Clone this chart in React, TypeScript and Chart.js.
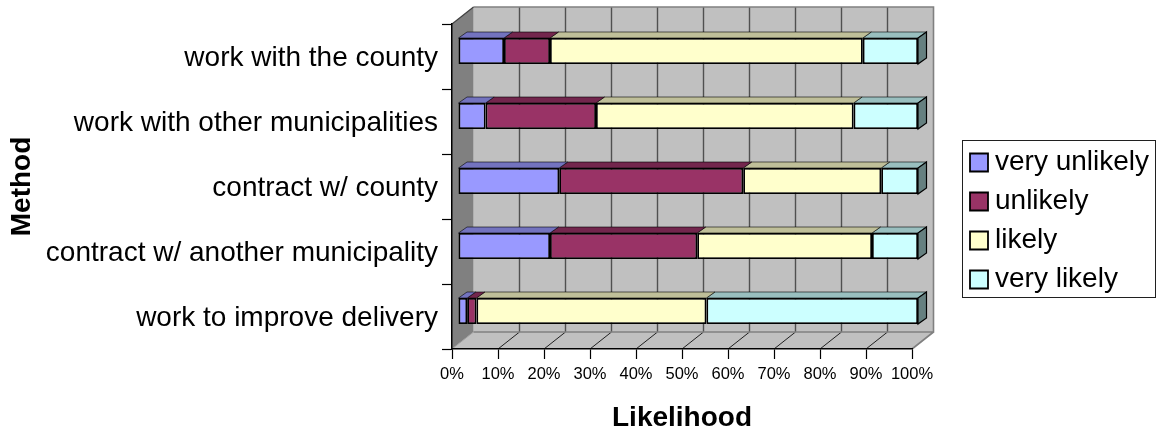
import React, { useEffect, useRef } from "react";
import { Chart, registerables } from "chart.js";

Chart.register(...registerables);

const categories = [
  "work with the county",
  "work with other municipalities",
  "contract w/ county",
  "contract w/ another municipality",
  "work to improve delivery",
];
const veryUnlikely = [10, 6, 22, 20, 2];
const unlikely = [10, 24, 40, 32, 2];
const likely = [68, 56, 30, 38, 50];
const veryLikely = [12, 14, 8, 10, 46];

const seriesLabels = ["very unlikely", "unlikely", "likely", "very likely"];
const seriesValues = [veryUnlikely, unlikely, likely, veryLikely];
const fronts = ["#9999FF", "#993366", "#FFFFCC", "#CCFFFF"];
const tops = ["#7373BF", "#73264D", "#BFBF99", "#99BFBF"];
const side = "#668080";

const FONT = "'Liberation Sans', Arial, sans-serif";
const WALL_DX = 21.5;
const WALL_DY = 17;
const BAR_DX = 8.5;
const BAR_DY = 6;
const BAR_SHIFT_X = 6;
const BAR_SHIFT_Y = -5.5;
const Y_LABEL_SHIFT = 2;

function poly(ctx: CanvasRenderingContext2D, pts: number[][], fill?: string, stroke?: string, lw = 1) {
  ctx.beginPath();
  pts.forEach(([x, y], i) => (i ? ctx.lineTo(x, y) : ctx.moveTo(x, y)));
  ctx.closePath();
  if (fill) {
    ctx.fillStyle = fill;
    ctx.fill();
  }
  if (stroke) {
    ctx.strokeStyle = stroke;
    ctx.lineWidth = lw;
    ctx.stroke();
  }
}

const scenePlugin = {
  id: "scene3d",
  afterLayout(chart: any) {
    const lg = chart.legend;
    lg.left = 966;
    lg.top = 137.5;
    lg.right = 1157;
    lg.bottom = 429;
    lg.width = 191;
    lg.height = 291.5;
    const y = chart.scales.y;
    if (!y.__shifted) {
      y.__shifted = true;
      const orig = y.drawLabels;
      y.drawLabels = function (area: any) {
        this.ctx.save();
        this.ctx.translate(0, Y_LABEL_SHIFT);
        orig.call(this, area);
        this.ctx.restore();
      };
    }
  },
  beforeDraw(chart: any) {
    const { ctx, chartArea: a, scales } = chart;
    const dx = WALL_DX;
    const dy = WALL_DY;
    ctx.save();
    poly(ctx, [[a.left + dx, a.top - dy], [a.right + dx, a.top - dy], [a.right + dx, a.bottom - dy], [a.left + dx, a.bottom - dy]], "#C0C0C0");
    poly(ctx, [[a.left, a.bottom], [a.right, a.bottom], [a.right + dx, a.bottom - dy], [a.left + dx, a.bottom - dy]], "#C0C0C0");
    poly(ctx, [[a.left, a.top], [a.left + dx, a.top - dy], [a.left + dx, a.bottom - dy], [a.left, a.bottom]], "#808080");
    scales.x.ticks.forEach((_: any, i: number) => {
      const px = scales.x.getPixelForTick(i);
      if (i > 0 && i < scales.x.ticks.length - 1) {
        ctx.strokeStyle = "#505050";
        ctx.lineWidth = 1.4;
        ctx.beginPath();
        ctx.moveTo(px + dx, a.top - dy);
        ctx.lineTo(px + dx, a.bottom - dy);
        ctx.stroke();
      }
      if (i < scales.x.ticks.length - 1) {
        ctx.strokeStyle = i === 0 ? "#A0A0A0" : "#202020";
        ctx.lineWidth = 1;
        ctx.beginPath();
        ctx.moveTo(px, a.bottom);
        ctx.lineTo(px + dx, a.bottom - dy);
        ctx.stroke();
      }
    });
    ctx.strokeStyle = "#808080";
    ctx.lineWidth = 1.6;
    ctx.beginPath();
    ctx.moveTo(a.left + dx, a.bottom - dy);
    ctx.lineTo(a.right + dx, a.bottom - dy);
    ctx.lineTo(a.right + dx, a.top - dy);
    ctx.lineTo(a.left + dx, a.top - dy);
    ctx.moveTo(a.right, a.bottom);
    ctx.lineTo(a.right + dx, a.bottom - dy);
    ctx.stroke();
    ctx.strokeStyle = "#404040";
    ctx.lineWidth = 1.2;
    ctx.beginPath();
    ctx.moveTo(a.left, a.top);
    ctx.lineTo(a.left + dx, a.top - dy);
    ctx.stroke();
    ctx.fillStyle = "#FFFFFF";
    ctx.fillRect(962, 140, 194, 157);
    ctx.strokeStyle = "#202020";
    ctx.lineWidth = 1;
    ctx.strokeRect(962.5, 140.5, 193, 157);
    ctx.restore();
  },
  beforeDatasetDraw(chart: any) {
    chart.ctx.save();
    chart.ctx.translate(BAR_SHIFT_X, BAR_SHIFT_Y);
  },
  afterDatasetDraw(chart: any, args: any) {
    const ctx = chart.ctx;
    const idx = args.index;
    args.meta.data.forEach((bar: any) => {
      const { x, y, base, height } = bar.getProps(["x", "y", "base", "height"], true);
      const t = y - height / 2;
      const b = y + height / 2;
      poly(ctx, [[base, t], [x, t], [x + BAR_DX, t - BAR_DY], [base + BAR_DX, t - BAR_DY]], tops[idx], "#000000", 0.6);
      if (idx === seriesValues.length - 1) {
        poly(ctx, [[x, t], [x + BAR_DX, t - BAR_DY], [x + BAR_DX, b - BAR_DY], [x, b]], side, "#000000", 1.2);
      }
    });
    ctx.restore();
  },
};

export default function App() {
  const ref = useRef<HTMLCanvasElement>(null);
  useEffect(() => {
    const chart = new Chart(ref.current!, {
      type: "bar",
      data: {
        labels: categories,
        datasets: seriesValues.map((data, i) => ({
          label: seriesLabels[i],
          data,
          backgroundColor: fronts[i],
          borderColor: "#000000",
          borderWidth: 1.8,
          borderSkipped: false,
          barPercentage: 0.4,
          categoryPercentage: 1,
          clip: false,
        })),
      } as any,
      options: {
        indexAxis: "y",
        responsive: false,
        animation: false,
        devicePixelRatio: 1,
        events: [],
        layout: { padding: { left: 0, top: 24, right: 245, bottom: 0 } },
        plugins: {
          tooltip: { enabled: false },
          legend: {
            position: "chartArea",
            align: "start",
            labels: {
              usePointStyle: true,
              pointStyle: "rect",
              boxWidth: 4,
              boxHeight: 18,
              padding: 11,
              color: "#000000",
              font: { family: FONT, size: 28 },
            },
          },
        },
        scales: {
          x: {
            stacked: true,
            min: 0,
            max: 100,
            afterFit: (s: any) => {
              s.height = 80;
            },
            grid: { drawOnChartArea: false, color: "#000000", tickLength: 10, tickWidth: 1.2 },
            border: { color: "#000000", width: 1.5 },
            ticks: {
              stepSize: 10,
              autoSkip: false,
              maxRotation: 0,
              padding: 6,
              color: "#000000",
              font: { family: FONT, size: 16.5 },
              callback: (v: any) => v + "%",
            },
            title: {
              display: true,
              text: "Likelihood",
              color: "#000000",
              font: { family: FONT, size: 28, weight: "bold", lineHeight: 1 },
              padding: { top: 0, bottom: -3 },
            },
          },
          y: {
            stacked: true,
            afterFit: (s: any) => {
              s.width = 452;
            },
            grid: { drawOnChartArea: false, offset: true, color: "#000000", tickLength: 10, tickWidth: 1.2 },
            border: { color: "#000000", width: 1.5 },
            ticks: {
              autoSkip: false,
              padding: 4,
              color: "#000000",
              font: { family: FONT, size: 28 },
            },
            title: {
              display: true,
              text: "Method",
              color: "#000000",
              font: { family: FONT, size: 28, weight: "bold", lineHeight: 1 },
              padding: { top: 8, bottom: 0 },
            },
          },
        },
      } as any,
      plugins: [scenePlugin],
    });
    return () => chart.destroy();
  }, []);
  return (
    <div style={{ position: "absolute", left: 0, top: 0, width: 1157, height: 429 }}>
      <canvas ref={ref} width={1157} height={429} style={{ display: "block" }} />
    </div>
  );
}
